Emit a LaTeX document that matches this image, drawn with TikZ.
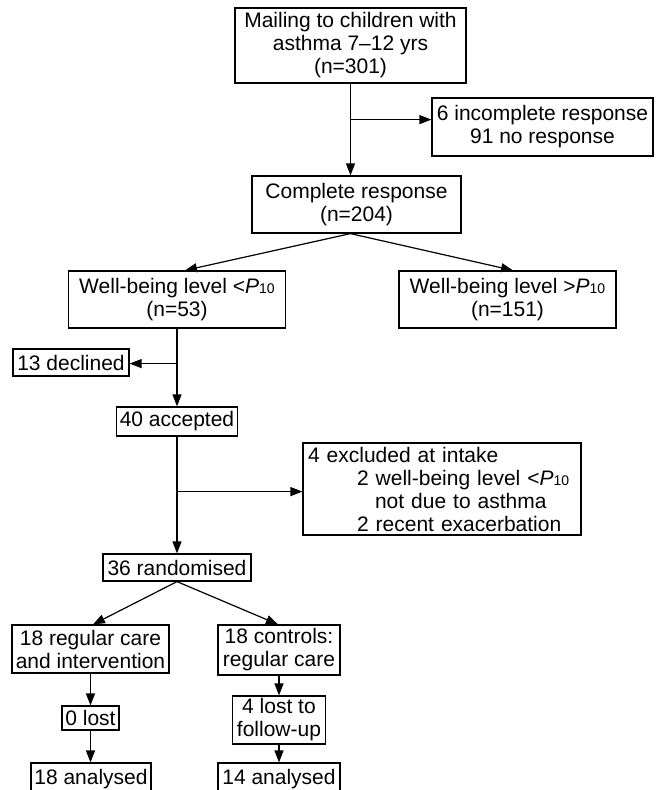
\documentclass[tikz,border=0pt]{standalone}
\usepackage{fontspec}
\setmainfont{Liberation Sans}
\usetikzlibrary{arrows.meta}
\newcommand{\Pten}{\textit{P}{\fontsize{14}{14}\selectfont 10}}
\begin{document}
\begin{tikzpicture}[x=1pt,y=-1pt,
  box/.style={draw, line width=1.2pt, inner sep=0pt, align=center, font=\fontsize{21}{23}\selectfont},
  arr/.style={line width=1.2pt, -{Triangle[length=12pt,width=9pt]}},
  ln/.style={line width=1.2pt}]
\useasboundingbox (0,0) rectangle (656,790);
\node[box, minimum width=231, minimum height=75] (top) at (350.5,45.5) {Mailing to children with\\asthma 7--12 yrs\\(n=301)};
\node[box, minimum width=221, minimum height=58] (excl1) at (542.5,127) {6 incomplete response\\91 no response};
\node[box, minimum width=209, minimum height=57] (complete) at (356.5,204.5) {Complete response\\(n=204)};
\node[box, minimum width=217, minimum height=57] (wbl) at (177,299.5) {Well-being level <\Pten\\(n=53)};
\node[box, minimum width=217, minimum height=57] (wbh) at (507.5,299.5) {Well-being level >\Pten\\(n=151)};
\node[box, minimum width=116, minimum height=27] (declined) at (71,362.5) {13 declined};
\node[box, minimum width=121, minimum height=29] (accepted) at (177,421.5) {40 accepted};
\node[box, minimum width=278, minimum height=92, text width=268, align=left, inner xsep=5pt] (excl2) at (442,489) {4 excluded at intake\\\hspace*{49pt}2 well-being level <\Pten\\\hspace*{67pt}not due to asthma\\\hspace*{49pt}2 recent exacerbation};
\node[box, minimum width=148, minimum height=27] (rand) at (177,567.5) {36 randomised};
\node[box, minimum width=157, minimum height=48] (reg) at (90.5,649) {18 regular care\\and intervention};
\node[box, minimum width=122, minimum height=50] (ctrl) at (279,650) {18 controls:\\regular care};
\node[box, minimum width=57, minimum height=24] (lost0) at (90.5,718) {0 lost};
\node[box, minimum width=93, minimum height=48] (lost4) at (279,720) {4 lost to\\follow-up};
\node[box, minimum width=120, minimum height=32] (an18) at (91,779) {18 analysed};
\node[box, minimum width=122, minimum height=32] (an14) at (279,779) {14 analysed};
% connectors
\draw[arr] (top.south) -- (top.south |- complete.north);
\path (top.south) ++(0,36) coordinate (b1);
\draw[arr] (b1) -- (b1 -| excl1.west);
\coordinate (c1) at (top.south |- complete.south);
\draw[arr] (c1) -- ([xshift=8]wbl.north);
\draw[arr] (c1) -- ([xshift=5.5]wbh.north);
\draw[arr] (wbl.south) -- (accepted.north);
\path (wbl.south) ++(0,35) coordinate (b2);
\draw[arr] (b2) -- (b2 -| declined.east);
\draw[arr] (accepted.south) -- (accepted.south |- rand.north);
\path (accepted.south) ++(0,55) coordinate (b3);
\draw[arr] (b3) -- (b3 -| excl2.west);
\draw[arr] (rand.south) -- ([xshift=2.5]reg.north);
\draw[arr] (rand.south) -- ([xshift=-1]ctrl.north);
\draw[arr] (reg.south) -- (lost0.north);
\draw[arr] (lost0.south) -- (lost0.south |- an18.north);
\draw[arr] (ctrl.south) -- (lost4.north);
\draw[arr] (lost4.south) -- (an14.north);
\end{tikzpicture}
\end{document}
